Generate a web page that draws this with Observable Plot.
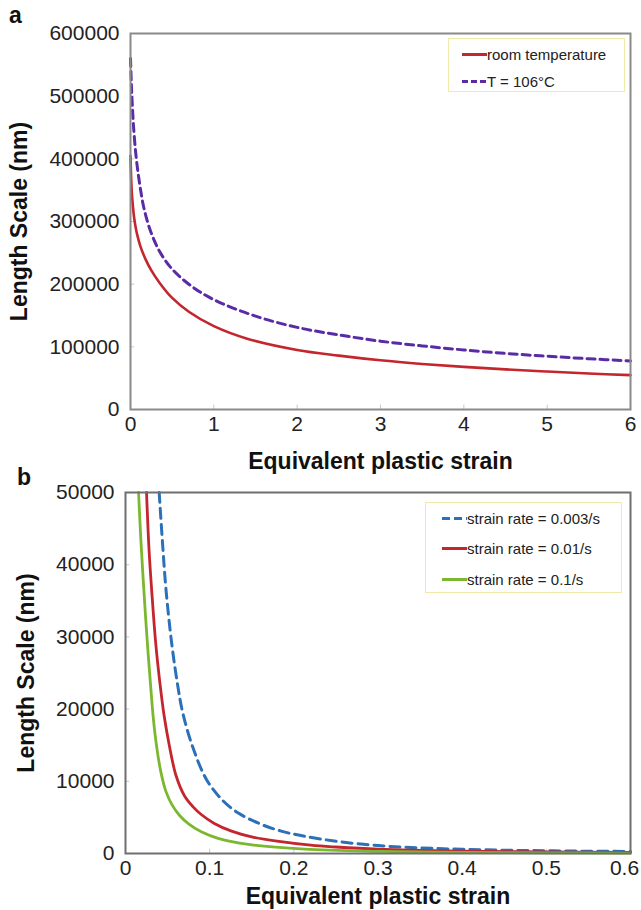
<!DOCTYPE html>
<html><head><meta charset="utf-8">
<script src="https://cdn.jsdelivr.net/npm/d3@7"></script>
<script src="https://cdn.jsdelivr.net/npm/@observablehq/plot@0.6"></script>
<style>
body{margin:0;background:#fff;font-family:"Liberation Sans",Arial,sans-serif;}
#wrap{position:relative;width:641px;height:910px;overflow:hidden;background:#fff;}
#wrap svg{display:block;}
.panel{position:absolute;font-weight:bold;font-size:23px;color:#111;line-height:1;}
.legend{position:absolute;border:1.5px solid #f1e9a8;background:#fff;font-size:15px;color:#222;box-sizing:border-box;}
.row{position:absolute;display:flex;align-items:center;white-space:nowrap;transform:translateY(-50%);}
.row svg{display:block;}
g[aria-label="x-axis label"] text, g[aria-label="y-axis label"] text{font-weight:bold;font-size:23px;fill:#111;}
</style></head><body><div id="wrap"></div>
<script>
// ---------- Panel a data ----------
const roomTempStrain = [0, 0.005, 0.01, 0.02, 0.04, 0.06, 0.08, 0.12, 0.18, 0.25, 0.35, 0.5, 0.7, 1.0, 1.4, 2.0, 2.5, 3, 3.5, 4, 4.5, 5, 5.5, 6];
const roomTempLength = [405000, 380000, 362000, 338000, 310000, 292000, 279000, 260000, 240000, 222000, 202000, 178000, 156000, 133000, 113000, 95000, 86000, 78500, 72700, 68000, 64000, 60600, 57500, 54800];
const hotStrain = [0, 0.01, 0.02, 0.04, 0.07, 0.11, 0.16, 0.24, 0.35, 0.5, 0.74, 1.02, 1.5, 2.0, 2.5, 3, 3.5, 4, 4.5, 5, 5.5, 6];
const hotLength = [560000, 520000, 490000, 445000, 400000, 360000, 322000, 285000, 252000, 224000, 196000, 174000, 149000, 131000, 119000, 109000, 101500, 95000, 89500, 85000, 81000, 77500];
const seriesA = ["room temperature", "T = 106°C"];
const xTicksA = [0, 1, 2, 3, 4, 5, 6];
const yTicksA = [0, 100000, 200000, 300000, 400000, 500000, 600000];

// ---------- Panel b data ----------
const rate003Strain = [0.040, 0.044, 0.048, 0.055, 0.062, 0.068, 0.080, 0.096, 0.115, 0.134, 0.160, 0.185, 0.21, 0.25, 0.30, 0.35, 0.40, 0.45, 0.5, 0.55, 0.6];
const rate003Length = [50000, 43000, 36700, 29000, 23300, 19500, 14700, 10300, 7400, 5600, 4100, 3100, 2450, 1700, 1100, 780, 580, 460, 380, 320, 280];
const rate01Strain = [0.025, 0.028, 0.032, 0.036, 0.041, 0.046, 0.052, 0.060, 0.070, 0.080, 0.090, 0.105, 0.126, 0.15, 0.18, 0.22, 0.25, 0.3, 0.4, 0.5, 0.6];
const rate01Length = [50000, 42000, 35000, 29000, 23500, 19000, 15000, 10800, 8000, 6500, 5400, 4200, 3100, 2300, 1700, 1150, 900, 600, 330, 210, 150];
const rate1Strain = [0.0155, 0.018, 0.021, 0.024, 0.027, 0.030, 0.033, 0.037, 0.042, 0.048, 0.055, 0.064, 0.075, 0.090, 0.11, 0.146, 0.213, 0.3, 0.4, 0.5, 0.6];
const rate1Length = [50000, 44000, 38000, 32500, 27500, 23000, 18800, 14800, 11300, 8600, 6800, 5300, 4100, 3000, 2100, 1250, 600, 300, 150, 90, 60];
const seriesB = ["strain rate = 0.003/s", "strain rate = 0.01/s", "strain rate = 0.1/s"];
const xTicksB = [0, 0.1, 0.2, 0.3, 0.4, 0.5, 0.6];
const yTicksB = [0, 10000, 20000, 30000, 40000, 50000];

// ---------- styles ----------
const colRed = "#c4262e", colPurple = "#5a2ba6", colBlue = "#2b70b8", colGreen = "#7cb82f";
const font = '"Liberation Sans", Arial, sans-serif';
const zip = (xs, ys, s) => xs.map((x, i) => ({x, y: ys[i], s}));

const dataA = [...zip(roomTempStrain, roomTempLength, seriesA[0]), ...zip(hotStrain, hotLength, seriesA[1])];
const dataB = [...zip(rate003Strain, rate003Length, seriesB[0]), ...zip(rate01Strain, rate01Length, seriesB[1]), ...zip(rate1Strain, rate1Length, seriesB[2])];

const wrap = document.getElementById("wrap");
const fmt = d => String(d);

const plotA = Plot.plot({
  width: 641, height: 480,
  marginTop: 33, marginBottom: 71, marginLeft: 130, marginRight: 11,
  style: {fontFamily: font, fontSize: "21px", color: "#222", background: "white", overflow: "visible"},
  x: {domain: [0, 6]},
  y: {domain: [0, 600000]},
  marks: [
    Plot.ruleX(xTicksA, {x: d => d, y1: 0, y2: 7000, stroke: "#c8c8c8", strokeWidth: 1}),
    Plot.ruleY(yTicksA, {y: d => d, x1: 0, x2: 0.05, stroke: "#c8c8c8", strokeWidth: 1}),
    Plot.lineY(dataA.filter(d => d.s === seriesA[0]), {x: "x", y: "y", stroke: colRed, strokeWidth: 2.6, curve: "catmull-rom"}),
    Plot.lineY(dataA.filter(d => d.s === seriesA[1]), {x: "x", y: "y", stroke: colPurple, strokeWidth: 3, strokeDasharray: "8 5", curve: "catmull-rom"}),
    Plot.frame({stroke: "#8a8a8a", strokeWidth: 2}),
    Plot.axisX({ticks: xTicksA, tickSize: 0, tickPadding: 7, tickFormat: fmt, label: "Equivalent plastic strain", labelAnchor: "center", labelOffset: 59, labelArrow: "none"}),
    Plot.axisY({ticks: yTicksA, tickSize: 0, tickPadding: 11, tickFormat: fmt, label: "Length Scale (nm)", labelAnchor: "center", labelOffset: 120, labelArrow: "none"})
  ]
});
wrap.appendChild(plotA);

const plotB = Plot.plot({
  width: 641, height: 430,
  marginTop: 12, marginBottom: 57, marginLeft: 125, marginRight: 11,
  style: {fontFamily: font, fontSize: "21px", color: "#222", background: "white", overflow: "visible"},
  x: {domain: [0, 0.6]},
  y: {domain: [0, 50000]},
  marks: [
    Plot.ruleX(xTicksB, {x: d => d, y1: 0, y2: 600, stroke: "#c8c8c8", strokeWidth: 1}),
    Plot.ruleY(yTicksB, {y: d => d, x1: 0, x2: 0.005, stroke: "#c8c8c8", strokeWidth: 1}),
    Plot.lineY(dataB.filter(d => d.s === seriesB[0]), {x: "x", y: "y", stroke: colBlue, strokeWidth: 3, strokeDasharray: "10 6", curve: "catmull-rom"}),
    Plot.lineY(dataB.filter(d => d.s === seriesB[1]), {x: "x", y: "y", stroke: colRed, strokeWidth: 2.8, curve: "catmull-rom"}),
    Plot.lineY(dataB.filter(d => d.s === seriesB[2]), {x: "x", y: "y", stroke: colGreen, strokeWidth: 2.8, curve: "catmull-rom"}),
    Plot.frame({stroke: "#6f6f6f", strokeWidth: 2}),
    Plot.axisX({ticks: xTicksB.slice(0, -1), tickSize: 0, tickPadding: 7, tickFormat: fmt, label: "Equivalent plastic strain", labelAnchor: "center", labelOffset: 50, labelArrow: "none"}),
    Plot.axisX({ticks: xTicksB.slice(-1), tickSize: 0, tickPadding: 7, tickFormat: fmt, dx: -6, label: null}),
    Plot.axisY({ticks: yTicksB, tickSize: 0, tickPadding: 11, tickFormat: fmt, label: "Length Scale (nm)", labelAnchor: "center", labelOffset: 108, labelArrow: "none"})
  ]
});
wrap.appendChild(plotB);

// panel letters
function addPanel(txt, left, top) {
  const d = document.createElement("div");
  d.className = "panel"; d.textContent = txt;
  d.style.left = left + "px"; d.style.top = top + "px";
  wrap.appendChild(d);
}
addPanel("a", 9, 4);
addPanel("b", 17, 466);

// legends
function sample(color, dash) {
  return `<svg width="25" height="6"><line x1="0" y1="3" x2="25" y2="3" stroke="${color}" stroke-width="3" ${dash ? `stroke-dasharray="${dash}"` : ""}/></svg>`;
}
function addLegend(left, top, w, h, entries, sampleLeft, rowsY) {
  const L = document.createElement("div");
  L.className = "legend";
  Object.assign(L.style, {left: left + "px", top: top + "px", width: w + "px", height: h + "px"});
  entries.forEach((e, i) => {
    const r = document.createElement("div");
    r.className = "row";
    r.style.left = sampleLeft + "px"; r.style.top = rowsY[i] + "px";
    r.innerHTML = sample(e.color, e.dash) + `<span>${e.label}</span>`;
    L.appendChild(r);
  });
  wrap.appendChild(L);
}
addLegend(448, 38, 177, 54, [
  {label: seriesA[0], color: colRed},
  {label: seriesA[1], color: colPurple, dash: "6 3"}
], 13, [15, 42]);
addLegend(425, 502, 197, 91, [
  {label: seriesB[0], color: colBlue, dash: "8 4"},
  {label: seriesB[1], color: colRed},
  {label: seriesB[2], color: colGreen}
], 16, [15, 45, 76]);
</script></body></html>
